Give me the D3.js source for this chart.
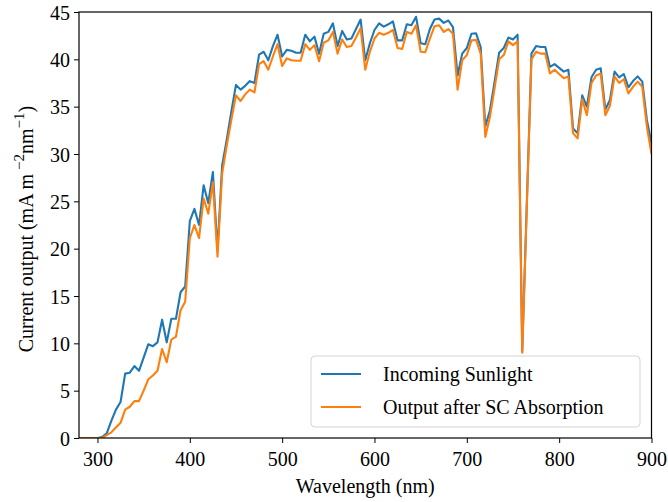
<!DOCTYPE html>
<html>
<head>
<meta charset="utf-8">
<script src="https://cdn.jsdelivr.net/npm/d3@7"></script>
<style>
  body { margin: 0; background: #fff; }
  svg text { font-family: "Liberation Serif", "Times New Roman", serif; }
</style>
</head>
<body>
<svg id="chart"></svg>
<script>
// wavelengths (nm)
const wavelength = [280, 285, 290, 295, 300, 305, 310, 315, 320, 325, 330, 335, 340, 345, 350, 355, 360, 365, 370, 375,
  380, 385, 390, 395, 400, 405, 410, 415, 420, 425, 430, 435, 440, 445, 450, 455, 460, 465, 470, 475,
  480, 485, 490, 495, 500, 505, 510, 515, 520, 525, 530, 535, 540, 545, 550, 555, 560, 565, 570, 575,
  580, 585, 590, 595, 600, 605, 610, 615, 620, 625, 630, 635, 640, 645, 650, 655, 660, 665, 670, 675,
  680, 685, 690, 695, 700, 705, 710, 715, 720, 725, 730, 735, 740, 745, 750, 755, 760, 770, 775, 780,
  785, 790, 795, 800, 805, 810, 815, 820, 825, 830, 835, 840, 845, 850, 855, 860, 865, 870, 875, 880,
  885, 890, 895, 900]

// incoming sunlight
const sunlight = [0, 0, 0, 0, 0, 0.1, 0.5, 1.8, 3.0, 3.8, 6.8, 6.9, 7.6, 7.1, 8.5, 9.9, 9.7, 10.1, 12.5, 10.1,
  12.6, 12.6, 15.4, 16.0, 22.9, 24.2, 22.5, 26.7, 24.8, 28.1, 19.8, 28.8, 31.5, 34.5, 37.3, 36.8, 37.2, 37.7, 37.5, 40.5,
  40.8, 39.9, 41.4, 42.6, 40.3, 41.0, 40.9, 40.7, 40.7, 42.6, 41.9, 42.4, 40.6, 42.7, 42.9, 43.8, 41.4, 43.0, 42.1, 42.2,
  43.2, 44.2, 39.9, 41.7, 43.1, 43.8, 43.45, 43.7, 44.0, 42.0, 42.0, 43.7, 43.6, 44.5, 41.7, 41.6, 43.2, 44.2, 44.3, 43.85,
  44.1, 43.4, 38.3, 40.6, 41.2, 42.7, 42.75, 41.3, 32.9, 34.6, 37.6, 40.7, 41.2, 42.3, 42.1, 42.6, 9.2, 40.6, 41.4, 41.3,
  41.3, 39.2, 39.5, 39.1, 38.7, 38.9, 32.7, 32.2, 36.2, 35.0, 38.1, 38.9, 39.05, 34.7, 35.7, 38.7, 38.1, 38.45, 37.05, 37.7,
  38.2, 37.65, 33.6, 31.1]

// output after SC absorption
const output = [0, 0, 0, 0, 0, 0, 0.3, 0.6, 1.1, 1.6, 3.0, 3.3, 3.9, 3.9, 5.0, 6.2, 6.6, 7.1, 9.4, 8.0,
  10.4, 10.7, 13.5, 14.4, 21.1, 22.5, 21.1, 25.3, 23.7, 27.0, 19.15, 27.9, 30.9, 33.6, 36.2, 35.6, 36.3, 36.8, 36.5, 39.5,
  39.8, 38.9, 40.3, 41.6, 39.3, 40.1, 39.9, 39.85, 39.85, 41.6, 41.0, 41.5, 39.8, 41.75, 42.0, 42.9, 40.6, 42.1, 41.3, 41.4,
  42.3, 43.3, 38.9, 40.8, 42.2, 42.8, 42.6, 42.8, 43.1, 41.2, 41.1, 42.9, 42.7, 43.6, 40.8, 40.75, 42.2, 43.5, 43.6, 42.9,
  43.2, 42.7, 36.8, 39.9, 40.45, 42.0, 42.05, 40.6, 31.8, 33.9, 36.9, 40.0, 40.45, 41.9, 41.5, 41.9, 9.0, 40.0, 40.8, 40.6,
  40.6, 38.5, 38.9, 38.45, 38.0, 38.2, 32.2, 31.65, 35.8, 34.1, 37.5, 38.3, 38.5, 34.1, 35.1, 38.2, 37.5, 37.9, 36.4, 37.1,
  37.65, 37.1, 32.9, 30.0]

const seriesNames = ['Incoming Sunlight', 'Output after SC Absorption']
const seriesColors = ['#1f77b4', '#ff7f0e']
const xTicks = [300, 400, 500, 600, 700, 800, 900]
const yTicks = [0, 5, 10, 15, 20, 25, 30, 35, 40, 45]

const width = 668, height = 502
const margin = { top: 12, right: 16.5, bottom: 64, left: 79 }

const svg = d3.select('#chart').attr('width', width).attr('height', height)

const x = d3.scaleLinear().domain([280, 900]).range([margin.left, width - margin.right])
const y = d3.scaleLinear().domain([0, 45]).range([height - margin.bottom, margin.top])

const line = d3.line()
  .x(function (d) { return x(d[0]) })
  .y(function (d) { return y(d[1]) })

svg.append('clipPath').attr('id', 'plot-clip')
  .append('rect')
  .attr('x', x.range()[0]).attr('y', y.range()[1])
  .attr('width', x.range()[1] - x.range()[0])
  .attr('height', y.range()[0] - y.range()[1])

const plot = svg.append('g').attr('clip-path', 'url(#plot-clip)')

;[sunlight, output].forEach(function (vals, i) {
  plot.append('path')
    .datum(wavelength.map(function (w, j) { return [w, vals[j]] }))
    .attr('d', line)
    .attr('fill', 'none')
    .attr('stroke', seriesColors[i])
    .attr('stroke-width', 2.1)
    .attr('stroke-linejoin', 'round')
})

// axes
const xAxis = svg.append('g')
  .attr('transform', 'translate(0,' + y(0) + ')')
  .call(d3.axisBottom(x).tickValues(xTicks).tickSize(5).tickPadding(4))
const yAxis = svg.append('g')
  .attr('transform', 'translate(' + x(280) + ',0)')
  .call(d3.axisLeft(y).tickValues(yTicks).tickSize(5).tickPadding(4))

;[xAxis, yAxis].forEach(function (ax) {
  ax.select('.domain').remove()
  ax.selectAll('line').attr('stroke', '#000').attr('stroke-width', 1)
  ax.selectAll('text').attr('fill', '#000').style('font-size', '20px')
})
xAxis.selectAll('text').attr('dy', '0.95em')
yAxis.selectAll('text').attr('dy', '0.35em')

// frame
svg.append('rect')
  .attr('x', x.range()[0]).attr('y', y.range()[1])
  .attr('width', x.range()[1] - x.range()[0])
  .attr('height', y.range()[0] - y.range()[1])
  .attr('fill', 'none')
  .attr('stroke', '#000')
  .attr('stroke-width', 1.2)

// axis labels
svg.append('text')
  .attr('x', (x.range()[0] + x.range()[1]) / 2)
  .attr('y', 493)
  .attr('text-anchor', 'middle')
  .style('font-size', '20px')
  .text('Wavelength (nm)')

const yl = svg.append('text')
  .attr('transform', 'translate(33,' + ((y.range()[0] + y.range()[1]) / 2 + 4) + ') rotate(-90)')
  .attr('text-anchor', 'middle')
  .style('font-size', '20px')
yl.append('tspan').text('Current output (mA m\u2009')
yl.append('tspan').attr('dy', -9).style('font-size', '15px').text('\u22122')
yl.append('tspan').attr('dy', 9).text('nm')
yl.append('tspan').attr('dy', -9).style('font-size', '15px').text('\u22121')
yl.append('tspan').attr('dy', 9).text(')')

// legend
const legend = svg.append('g').attr('transform', 'translate(311,356)')
legend.append('rect')
  .attr('width', 329).attr('height', 71)
  .attr('rx', 4)
  .attr('fill', '#fff').attr('fill-opacity', 0.8)
  .attr('stroke', '#d4d4d4')
seriesNames.forEach(function (name, i) {
  const g = legend.append('g').attr('transform', 'translate(0,' + (18 + i * 33) + ')')
  g.append('line')
    .attr('x1', 10).attr('x2', 50)
    .attr('stroke', seriesColors[i]).attr('stroke-width', 2.1)
  g.append('text')
    .attr('x', 72).attr('dy', '0.35em')
    .style('font-size', '20px')
    .text(name)
})
</script>
</body>
</html>
